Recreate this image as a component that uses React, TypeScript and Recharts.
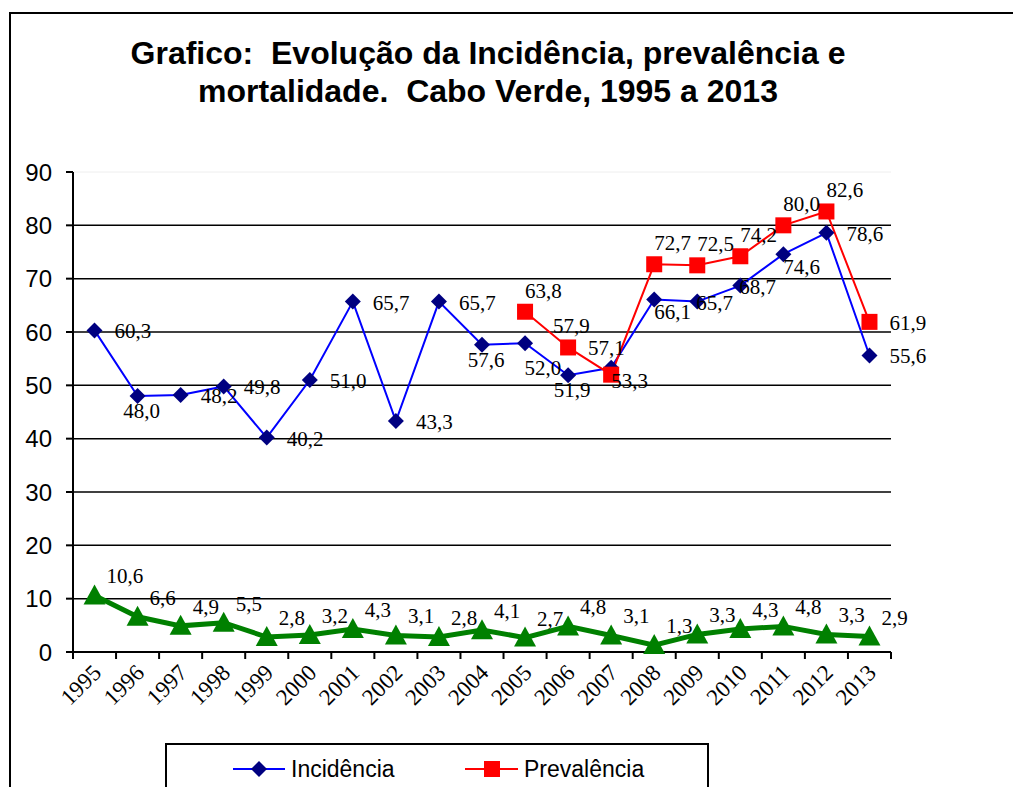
import React from "react";
import {
  CartesianGrid,
  LabelList,
  Line,
  LineChart,
  ReferenceLine,
  XAxis,
  YAxis,
} from "recharts";

const years = [
  "1995", "1996", "1997", "1998", "1999", "2000", "2001", "2002", "2003", "2004",
  "2005", "2006", "2007", "2008", "2009", "2010", "2011", "2012", "2013",
];
const incidencia = [
  60.3, 48.0, 48.2, 49.8, 40.2, 51.0, 65.7, 43.3, 65.7, 57.6,
  57.9, 51.9, 53.3, 66.1, 65.7, 68.7, 74.6, 78.6, 55.6,
];
const prevalencia = [
  null, null, null, null, null, null, null, null, null, null,
  63.8, 57.1, 52.0, 72.7, 72.5, 74.2, 80.0, 82.6, 61.9,
];
const mortalidade = [
  10.6, 6.6, 4.9, 5.5, 2.8, 3.2, 4.3, 3.1, 2.8, 4.1,
  2.7, 4.8, 3.1, 1.3, 3.3, 4.3, 4.8, 3.3, 2.9,
];
const yTicks = [0, 10, 20, 30, 40, 50, 60, 70, 80, 90];

// where each data label sits relative to its marker
const incLabelPos = ["r", "b", "r", "r", "r", "r", "r", "r", "r", "b", "ar2", "b", "br", "br", "c", "c", "br", "r", "r"];
const prevLabelPos = ["", "", "", "", "", "", "", "", "", "", "ap", "r", "l", "ap", "ap", "ap", "ap", "ap", "r"];

const data = years.map((year, i) => ({
  year,
  inc: incidencia[i],
  prev: prevalencia[i],
  mort: mortalidade[i],
}));

const W = 1013;
const H = 787;
const plotLeft = 73;
const plotRight = 891;
const plotTop = 172;
const plotBottom = 652;
const band = (plotRight - plotLeft) / years.length;

const fmt = (v: number) => v.toFixed(1).replace(".", ",");

const Diamond = (p: any) => {
  if (p.cx == null || p.cy == null || p.value == null) return null;
  const r = 8;
  return (
    <path
      d={`M${p.cx},${p.cy - r} L${p.cx + r},${p.cy} L${p.cx},${p.cy + r} L${p.cx - r},${p.cy} Z`}
      fill="#000080"
    />
  );
};

const Square = (p: any) => {
  if (p.cx == null || p.cy == null || p.value == null) return null;
  return <rect x={p.cx - 8} y={p.cy - 8} width={16} height={16} fill="#ff0000" />;
};

const Triangle = (p: any) => {
  if (p.cx == null || p.cy == null || p.value == null) return null;
  return (
    <path
      d={`M${p.cx},${p.cy - 11} L${p.cx + 11},${p.cy + 9} L${p.cx - 11},${p.cy + 9} Z`}
      fill="#008000"
    />
  );
};

const labelStyle = {
  fontFamily: "'Liberation Serif', 'Times New Roman', serif",
  fontSize: 21,
  fill: "#000",
};

const offsets: Record<string, [number, number, string]> = {
  r: [20, 8, "start"],
  b: [4, 22, "middle"],
  br: [0, 20, "start"],
  c: [-1, 8, "start"],
  ar2: [28, -10, "start"],
  ap: [0, -14, "start"],
  am: [12, -12, "start"],
  l: [-50, 0, "end"],
};

const makeLabel = (positions: string[] | string) => (p: any) => {
  if (p.value == null || p.x == null) return null;
  const pos = Array.isArray(positions) ? positions[p.index] : positions;
  const [dx, dy, anchor] = offsets[pos] || offsets.r;
  return (
    <text x={p.x + dx} y={p.y + dy} textAnchor={anchor as any} style={labelStyle}>
      {fmt(p.value)}
    </text>
  );
};

const YearTick = (p: any) => {
  const { x, y, payload, index } = p;
  const left = x - band / 2;
  return (
    <g>
      <line x1={left} y1={y} x2={left} y2={y + 7} stroke="#000" strokeWidth={2} />
      {index === years.length - 1 && (
        <line x1={x + band / 2} y1={y} x2={x + band / 2} y2={y + 7} stroke="#000" strokeWidth={2} />
      )}
      <text
        x={x + 8}
        y={y + 22}
        textAnchor="end"
        transform={`rotate(-45, ${x + 8}, ${y + 22})`}
        style={{ fontFamily: "'Liberation Serif', 'Times New Roman', serif", fontSize: 23, fill: "#000" }}
      >
        {payload.value}
      </text>
    </g>
  );
};

const legendText = { fontFamily: "'Liberation Sans', Arial, sans-serif", fontSize: 23 };

export default function App() {
  return (
    <div
      style={{
        position: "absolute",
        left: 0,
        top: 0,
        width: W,
        height: H,
        overflow: "hidden",
        background: "#fff",
      }}
    >
      <div
        style={{
          position: "absolute",
          left: 9,
          top: 12,
          width: W,
          height: H,
          borderLeft: "2px solid #000",
          borderTop: "2px solid #000",
        }}
      />
      <div
        style={{
          position: "absolute",
          left: 0,
          top: 34,
          width: 976,
          textAlign: "center",
          fontFamily: "'Liberation Sans', Arial, sans-serif",
          fontWeight: "bold",
          fontSize: 32,
          lineHeight: "38px",
          color: "#000",
        }}
      >
        Grafico:&nbsp; Evolução da Incidência, prevalência e
        <br />
        mortalidade.&nbsp; Cabo Verde, 1995 a 2013
      </div>
      <div style={{ position: "absolute", left: 0, top: 0 }}>
        <LineChart
          width={W}
          height={H}
          data={data}
          margin={{ top: plotTop, right: W - plotRight, bottom: H - plotBottom - 60, left: plotLeft - 60 }}
        >
          <CartesianGrid
            vertical={false}
            horizontalValues={[10, 20, 30, 40, 50, 60, 70, 80]}
            stroke="#000"
            strokeWidth={1.5}
          />
          <ReferenceLine y={90} stroke="#eeeeee" strokeWidth={1} />
          <XAxis
            dataKey="year"
            height={60}
            interval={0}
            tickSize={0}
            tickMargin={0}
            padding={{ left: band / 2, right: band / 2 }}
            axisLine={{ stroke: "#000", strokeWidth: 2 }}
            tick={<YearTick />}
          />
          <YAxis
            width={60}
            domain={[0, 90]}
            ticks={yTicks}
            interval={0}
            tickSize={7}
            tickMargin={14}
            axisLine={{ stroke: "#000", strokeWidth: 2 }}
            tickLine={{ stroke: "#000", strokeWidth: 2 }}
            tick={{
              fill: "#000",
              fontSize: 24,
              fontFamily: "'Liberation Sans', Arial, sans-serif",
            }}
          />
          <Line
            dataKey="mort"
            name="Mortalidade"
            stroke="#008000"
            strokeWidth={5}
            dot={<Triangle />}
            activeDot={false}
            isAnimationActive={false}
          >
            <LabelList dataKey="mort" content={makeLabel("am")} />
          </Line>
          <Line
            dataKey="inc"
            name="Incidência"
            stroke="#0000ff"
            strokeWidth={2}
            dot={<Diamond />}
            activeDot={false}
            isAnimationActive={false}
          >
            <LabelList dataKey="inc" content={makeLabel(incLabelPos)} />
          </Line>
          <Line
            dataKey="prev"
            name="Prevalência"
            stroke="#ff0000"
            strokeWidth={2}
            dot={<Square />}
            activeDot={false}
            isAnimationActive={false}
          >
            <LabelList dataKey="prev" content={makeLabel(prevLabelPos)} />
          </Line>
        </LineChart>
      </div>
      <div
        style={{
          position: "absolute",
          left: 165,
          top: 743,
          width: 540,
          height: 80,
          border: "2px solid #000",
        }}
      >
        <svg width={540} height={60} style={{ position: "absolute", left: 0, top: 0 }}>
          <line x1={66} y1={24} x2={118} y2={24} stroke="#0000ff" strokeWidth={2} />
          <path d="M92,16 L100,24 L92,32 L84,24 Z" fill="#000080" />
          <line x1={298} y1={24} x2={351} y2={24} stroke="#ff0000" strokeWidth={2} />
          <rect x={317} y={16} width={16} height={16} fill="#ff0000" />
          <text x={124} y={32} style={legendText}>
            Incidência
          </text>
          <text x={357} y={32} style={legendText}>
            Prevalência
          </text>
        </svg>
      </div>
    </div>
  );
}
